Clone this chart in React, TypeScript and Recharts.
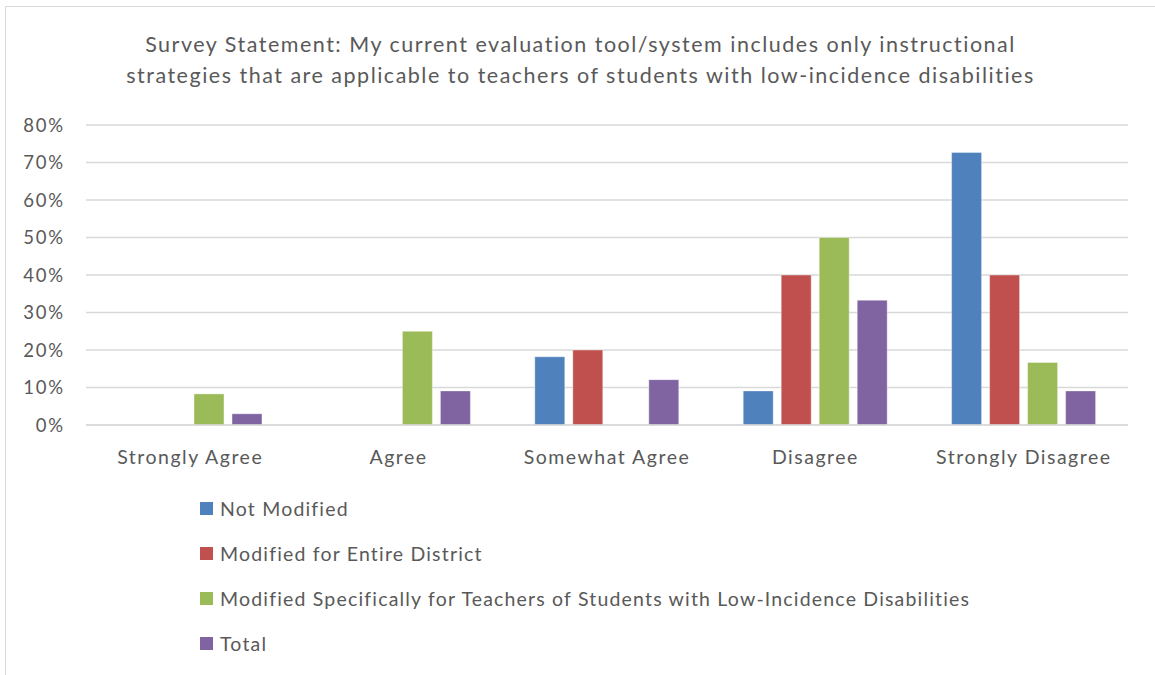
import { BarChart, Bar, XAxis, YAxis, CartesianGrid, Legend } from 'recharts';

const categories = ['Strongly Agree', 'Agree', 'Somewhat Agree', 'Disagree', 'Strongly Disagree'];
const notModified = [0, 0, 0.182, 0.091, 0.727];
const modifiedDistrict = [0, 0, 0.2, 0.4, 0.4];
const modifiedLowIncidence = [0.083, 0.25, 0, 0.5, 0.167];
const total = [0.03, 0.091, 0.121, 0.333, 0.091];
const yTicks = [0, 0.1, 0.2, 0.3, 0.4, 0.5, 0.6, 0.7, 0.8];

const series = [
  { key: 'notModified', name: 'Not Modified', color: '#4F81BD' },
  { key: 'modifiedDistrict', name: 'Modified for Entire District', color: '#C0504D' },
  {
    key: 'modifiedLowIncidence',
    name: 'Modified Specifically for Teachers of Students with Low-Incidence Disabilities',
    color: '#9BBB59',
  },
  { key: 'total', name: 'Total', color: '#8064A2' },
];

const data = categories.map((category, i) => ({
  category,
  notModified: notModified[i],
  modifiedDistrict: modifiedDistrict[i],
  modifiedLowIncidence: modifiedLowIncidence[i],
  total: total[i],
}));

const FONT = 'Lato, "Open Sans", sans-serif';
const TEXT = '#595959';

function LegendList() {
  return (
    <div style={{ fontFamily: FONT, fontSize: 19.5, color: TEXT, letterSpacing: 1.18 }}>
      {series.map((s) => (
        <div key={s.key} style={{ display: 'flex', alignItems: 'center', height: 45 }}>
          <span
            style={{ width: 13, height: 13, background: s.color, display: 'inline-block', marginRight: 7 }}
          />
          <span>{s.name}</span>
        </div>
      ))}
    </div>
  );
}

export default function App() {
  return (
    <div style={{ position: 'absolute', left: 0, top: 0, width: 1155, height: 675, background: '#fff' }}>
      <div
        style={{
          position: 'absolute',
          left: 5,
          top: 6,
          width: 1160,
          height: 680,
          border: '1.5px solid #D9D9D9',
          boxSizing: 'border-box',
        }}
      />
      <div
        style={{
          position: 'absolute',
          left: 0,
          top: 29,
          width: 1161,
          textAlign: 'center',
          fontFamily: FONT,
          fontSize: 21.5,
          lineHeight: '31px',
          letterSpacing: 1.5,
          color: TEXT,
        }}
      >
        Survey Statement: My current evaluation tool/system includes only instructional
        <br />
        strategies that are applicable to teachers of students with low-incidence disabilities
      </div>
      <div style={{ position: 'absolute', left: 0, top: 0 }}>
        <BarChart
          width={1155}
          height={675}
          data={data}
          margin={{ top: 125, right: 27, left: 0, bottom: 30 }}
          barCategoryGap={32}
          barGap={8}
        >
          <CartesianGrid vertical={false} stroke="#D9D9D9" strokeWidth={1.5} />
          <XAxis
            dataKey="category"
            axisLine={{ stroke: '#D9D9D9', strokeWidth: 1.5 }}
            tickLine={false}
            height={40}
            tickSize={0}
            tickMargin={25}
            tick={{ fill: TEXT, fontSize: 19.5, fontFamily: FONT, letterSpacing: 1.5 }}
            interval={0}
          />
          <YAxis
            width={86}
            domain={[0, 0.8]}
            ticks={yTicks}
            tickFormatter={(v: number) => `${Math.round(v * 100)}%`}
            axisLine={false}
            tickLine={false}
            tickSize={0}
            tickMargin={21}
            tick={{ fill: TEXT, fontSize: 18.5, fontFamily: FONT, letterSpacing: 1.8 }}
          />
          <Legend
            layout="horizontal"
            verticalAlign="bottom"
            align="left"
            wrapperStyle={{ left: 200, top: 486, width: 900, height: 180 }}
            content={() => <LegendList />}
          />
          {series.map((s) => (
            <Bar
              key={s.key}
              dataKey={s.key}
              name={s.name}
              fill={s.color}
              stroke="#ffffff"
              strokeOpacity={0.4}
              isAnimationActive={false}
            />
          ))}
        </BarChart>
      </div>
    </div>
  );
}
